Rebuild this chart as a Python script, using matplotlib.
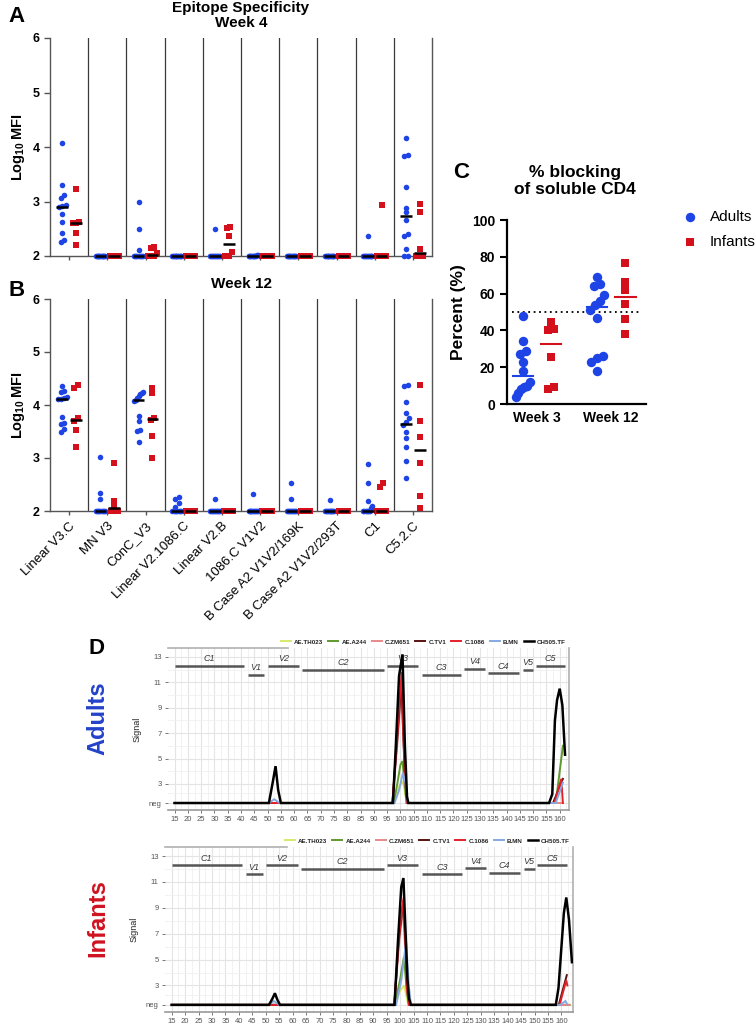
import numpy as np
import matplotlib
matplotlib.use("Agg")
import matplotlib.pyplot as plt
from matplotlib.lines import Line2D

plt.rcParams['font.family'] = ['Liberation Sans', 'DejaVu Sans']
plt.rcParams['mathtext.fontset'] = 'custom'
plt.rcParams['mathtext.bf'] = 'Liberation Sans:bold'
plt.rcParams['mathtext.rm'] = 'Liberation Sans'

# -----------------------
# DATA
# -----------------------
EPITOPES = ["Linear V3.C", "MN V3", "ConC_V3", "Linear V2.1086.C", "Linear V2.B",
            "1086.C V1V2", "B Case A2 V1V2/169K", "B Case A2 V1V2/293T", "C1", "C5.2.C"]

# log10 MFI, week 4 (panel A)
ADULTS_WK4 = [
    [4.08, 3.30, 3.12, 3.07, 2.93, 2.91, 2.90, 2.77, 2.62, 2.42, 2.29, 2.25],
    [2.0, 2.0, 2.0, 2.0, 2.0, 2.0, 2.0, 2.0, 2.0, 2.0, 2.0, 2.0],
    [3.00, 2.50, 2.11, 2.0, 2.0, 2.0, 2.0, 2.0, 2.0, 2.0, 2.0, 2.0],
    [2.0, 2.0, 2.0, 2.0, 2.0, 2.0, 2.0, 2.0, 2.0, 2.0, 2.0, 2.0],
    [2.50, 2.0, 2.0, 2.0, 2.0, 2.0, 2.0, 2.0, 2.0, 2.0, 2.0, 2.0],
    [2.02, 2.01, 2.0, 2.0, 2.0, 2.0, 2.0, 2.0, 2.0, 2.0, 2.0, 2.0],
    [2.0, 2.0, 2.0, 2.0, 2.0, 2.0, 2.0, 2.0, 2.0, 2.0, 2.0, 2.0],
    [2.0, 2.0, 2.0, 2.0, 2.0, 2.0, 2.0, 2.0, 2.0, 2.0, 2.0, 2.0],
    [2.36, 2.0, 2.0, 2.0, 2.0, 2.0, 2.0, 2.0, 2.0, 2.0, 2.0, 2.0],
    [4.17, 3.86, 3.84, 3.27, 2.88, 2.80, 2.66, 2.40, 2.36, 2.13, 2.0, 2.0],
]
INFANTS_WK4 = [
    [3.23, 2.62, 2.61, 2.60, 2.43, 2.20],
    [2.0, 2.0, 2.0, 2.0, 2.0, 2.0],
    [2.17, 2.15, 2.05, 2.0, 2.0, 2.0],
    [2.0, 2.0, 2.0, 2.0, 2.0, 2.0],
    [2.54, 2.52, 2.37, 2.07, 2.0, 2.0],
    [2.0, 2.0, 2.0, 2.0, 2.0, 2.0],
    [2.0, 2.0, 2.0, 2.0, 2.0, 2.0],
    [2.0, 2.0, 2.0, 2.0, 2.0, 2.0],
    [2.93, 2.0, 2.0, 2.0, 2.0, 2.0],
    [2.95, 2.80, 2.12, 2.0, 2.0, 2.0],
]
# log10 MFI, week 12 (panel B)
ADULTS_WK12 = [
    [4.35, 4.26, 4.25, 4.15, 4.13, 4.12, 4.11, 3.78, 3.66, 3.64, 3.55, 3.49],
    [3.01, 2.34, 2.23, 2.0, 2.0, 2.0, 2.0, 2.0, 2.0, 2.0, 2.0, 2.0],
    [4.25, 4.22, 4.20, 4.17, 4.14, 4.10, 4.07, 3.80, 3.70, 3.52, 3.51, 3.31],
    [2.27, 2.22, 2.15, 2.08, 2.0, 2.0, 2.0, 2.0, 2.0, 2.0, 2.0, 2.0],
    [2.22, 2.0, 2.0, 2.0, 2.0, 2.0, 2.0, 2.0, 2.0, 2.0, 2.0, 2.0],
    [2.33, 2.0, 2.0, 2.0, 2.0, 2.0, 2.0, 2.0, 2.0, 2.0, 2.0, 2.0],
    [2.52, 2.22, 2.0, 2.0, 2.0, 2.0, 2.0, 2.0, 2.0, 2.0, 2.0, 2.0],
    [2.20, 2.0, 2.0, 2.0, 2.0, 2.0, 2.0, 2.0, 2.0, 2.0, 2.0, 2.0],
    [2.89, 2.52, 2.18, 2.10, 2.05, 2.0, 2.0, 2.0, 2.0, 2.0, 2.0, 2.0],
    [4.38, 4.35, 4.05, 3.85, 3.75, 3.68, 3.62, 3.50, 3.38, 3.20, 2.95, 2.62],
]
INFANTS_WK12 = [
    [4.38, 4.33, 3.75, 3.70, 3.53, 3.21],
    [2.91, 2.18, 2.10, 2.0, 2.0, 2.0],
    [4.33, 4.23, 3.76, 3.71, 3.41, 3.00],
    [2.0, 2.0, 2.0, 2.0, 2.0, 2.0],
    [2.0, 2.0, 2.0, 2.0, 2.0, 2.0],
    [2.0, 2.0, 2.0, 2.0, 2.0, 2.0],
    [2.0, 2.0, 2.0, 2.0, 2.0, 2.0],
    [2.0, 2.0, 2.0, 2.0, 2.0, 2.0],
    [2.52, 2.45, 2.0, 2.0, 2.0, 2.0],
    [4.38, 3.70, 3.40, 2.90, 2.28, 2.05],
]

# % blocking of soluble CD4 (panel C)
WEEKS = ["Week 3", "Week 12"]
BLOCK_ADULTS = [
    [48, 34.5, 29, 27, 23, 18, 12, 10, 9, 8, 6, 4],
    [69, 65, 64, 59, 56, 54, 51, 47, 26, 25, 23, 18],
]
BLOCK_INFANTS = [
    [44.5, 41, 40, 25.5, 9, 8],
    [76.5, 66.5, 62, 54.5, 46, 38],
]
BLOCK_THRESHOLD = 50
GROUPS = ["Adults", "Infants"]

# linear epitope mapping (panel D)
STRAINS = ["AE.TH023", "AE.A244", "C.ZM651", "C.TV1", "C.1086", "B.MN", "CH505.TF"]
STRAIN_COLORS = ["#d8e86a", "#5e9a2e", "#e8898b", "#5a1212", "#e3202a", "#86a9df", "#000000"]
NEG = 1.5

ADULT_PROFILES = {
    "AE.TH023": ([15, 97.5, 99.5, 101, 102.5, 161], [NEG, NEG, 2.8, 3.2, NEG, NEG]),
    "AE.A244": ([15, 97.5, 99, 100, 100.8, 101.6, 102.3, 158.5, 161.2],
                [NEG, NEG, 3.2, 4.5, 4.8, 3.0, NEG, NEG, 6.0]),
    "C.ZM651": ([15, 97, 99, 100.3, 101.5, 102.3, 161], [NEG, NEG, 6.5, 10.4, 5.0, NEG, NEG]),
    "C.TV1": ([15, 97, 99, 100.4, 101.6, 102.5, 157.5, 160, 161.2],
              [NEG, NEG, 7.0, 11.0, 4.0, NEG, NEG, 2.8, 3.4]),
    "C.1086": ([15, 97, 99, 100.5, 101.6, 102.6, 158, 160.6, 161.2],
               [NEG, NEG, 7.5, 11.8, 4.0, NEG, NEG, 3.4, NEG]),
    "B.MN": ([15, 50.5, 52.5, 54.5, 97.8, 99.5, 101, 102, 102.8, 158.5, 161.2],
             [NEG, NEG, 1.8, NEG, NEG, 2.5, 3.9, 3.0, NEG, NEG, 3.1]),
    "CH505.TF": ([15, 50.5, 52, 53, 54, 55, 97.2, 98.3, 99.5, 100.8, 101.7, 102.5, 103,
                  156, 157.2, 158.2, 159, 160, 161, 162],
                 [NEG, NEG, 3.2, 4.4, 2.5, NEG, NEG, 6.0, 11.5, 13.2, 6.0, 2.0, NEG,
                  NEG, 2.2, 8.0, 9.6, 10.5, 9.2, 5.3]),
}
INFANT_PROFILES = {
    "AE.TH023": ([15, 98, 100, 101.5, 103, 163], [NEG, NEG, 2.6, 3.0, NEG, NEG]),
    "AE.A244": ([15, 98, 100, 101.4, 102.5, 103.3, 163], [NEG, NEG, 3.5, 5.2, 2.5, NEG, NEG]),
    "C.ZM651": ([15, 97.8, 99.5, 101, 102.5, 103.3, 163], [NEG, NEG, 6.0, 9.0, 3.5, NEG, NEG]),
    "C.TV1": ([15, 97.8, 99.5, 101.2, 102.6, 103.5, 159, 162],
              [NEG, NEG, 6.5, 9.6, 3.6, NEG, NEG, 3.8]),
    "C.1086": ([15, 97.8, 99.5, 101.3, 102.4, 103.2, 159.3, 161.8, 162.2],
               [NEG, NEG, 6.8, 9.8, 3.0, NEG, NEG, 3.4, 3.0]),
    "B.MN": ([15, 51, 53, 55, 98.5, 100.5, 102.2, 103.2, 104, 159.5, 161.5, 162],
             [NEG, NEG, 1.8, NEG, NEG, 3.5, 6.4, 3.0, NEG, NEG, 1.8, 1.6]),
    "CH505.TF": ([15, 51.2, 52.5, 53.4, 54.3, 55.3, 97.9, 99.2, 100.4, 101.2, 102.7, 103.3, 104,
                  157.9, 158.9, 160.9, 161.8, 162.8, 163.9],
                 [NEG, NEG, 2.0, 2.4, 1.9, NEG, NEG, 6.5, 10.6, 11.3, 3.5, 2.0, NEG,
                  NEG, 2.8, 8.6, 9.8, 8.1, 4.8]),
}

REGIONS = ["C1", "V1", "V2", "C2", "V3", "C3", "V4", "C4", "V5", "C5"]
REGION_START = [15, 42.5, 50, 63, 95, 108, 124, 133, 146, 151]
REGION_END = [41, 48.8, 62, 94, 106.5, 123, 132, 144.7, 150, 162]
REGION_LEVEL = [12.3, 11.6, 12.3, 12.0, 12.3, 11.6, 12.05, 11.7, 12.0, 12.3]

BLUE = '#1e44e6'
RED = '#d3101c'

# -----------------------
# HELPERS
# -----------------------
fig = plt.figure(figsize=(7.56, 10.25), dpi=100)
W, H = 756, 1025


def px_axes(left, top, right, bottom):
    return fig.add_axes([left / W, 1 - bottom / H, (right - left) / W, (bottom - top) / H])


def swarm_offsets(vals, thr, max_w, dx):
    vals = np.asarray(vals, dtype=float)
    order = np.argsort(vals)
    offs = np.zeros(len(vals))
    groups, cur = [], [order[0]]
    for a, b in zip(order[:-1], order[1:]):
        if vals[b] - vals[a] < thr:
            cur.append(b)
        else:
            groups.append(cur)
            cur = [b]
    groups.append(cur)
    for g in groups:
        k = len(g)
        if k > 1:
            step = min(dx, max_w / (k - 1))
            for j, idx in enumerate(g):
                offs[idx] = (j - (k - 1) / 2) * step
    return offs


def epitope_panel(ax, adults, infants, title, show_labels):
    n = len(EPITOPES)
    for i in range(n):
        for vals, shift, color, marker, ms in ((adults[i], -0.18, BLUE, 'o', 4.0),
                                               (infants[i], 0.18, RED, 's', 3.8)):
            v = np.asarray(vals)
            x = i + shift + swarm_offsets(v, 0.07, 0.24, 0.09)
            ax.plot(x, v, marker, color=color, ms=ms, mew=0, ls='none', clip_on=False, zorder=3)
            med = np.median(v)
            ax.plot([i + shift - 0.15, i + shift + 0.15], [med, med], color='black',
                    lw=1.8, solid_capstyle='butt', clip_on=False, zorder=4)
    for i in range(1, n):
        ax.axvline(i - 0.5, color='#3a3a3a', lw=0.9, zorder=1)
    ax.set_xlim(-0.5, n - 0.5)
    ax.set_ylim(2, 6)
    ax.set_yticks([2, 3, 4, 5, 6])
    ax.set_xticks(range(n))
    ax.spines['top'].set_visible(False)
    for s in ['left', 'right', 'bottom']:
        ax.spines[s].set_color('#555555')
        ax.spines[s].set_linewidth(1.0)
    ax.tick_params(axis='y', length=4, width=1, labelsize=9, color='#555555')
    ax.tick_params(axis='x', length=3, width=1, color='#555555')
    for t in ax.get_yticklabels():
        t.set_fontweight('bold')
    ax.set_ylabel(r'$\mathbf{Log_{10}\,MFI}$', fontsize=10.5, labelpad=4)
    ax.set_title(title, fontsize=11, fontweight='bold', pad=8, linespacing=1.1)
    if show_labels:
        ax.set_xticklabels(EPITOPES, rotation=45, ha='right', rotation_mode='anchor', fontsize=9.5)
    else:
        ax.set_xticklabels([])


def profile_panel(ax, profiles, xmax):
    for name, color in zip(STRAINS, STRAIN_COLORS):
        xs, ys = profiles[name]
        ax.plot(xs, ys, color=color, lw=1.8 if name == 'CH505.TF' else 1.4, zorder=3,
                label=name, solid_joinstyle='miter')
    for name, s, e, lev in zip(REGIONS, REGION_START, REGION_END, REGION_LEVEL):
        ax.plot([s, e], [lev, lev], color='#555555', lw=1.8, zorder=2, solid_capstyle='butt')
        ax.text((s + e) / 2, lev + 0.2, name, ha='center', va='bottom', fontsize=6.5,
                style='italic', color='#3a3a3a', zorder=2)
    ax.set_xlim(12.5, xmax)
    ax.set_ylim(0.95, 13.7)
    ax.set_xticks(range(15, 161, 5))
    ax.set_xticks(np.arange(17.5, 163, 5), minor=True)
    ax.set_yticks([NEG, 3, 5, 7, 9, 11, 13])
    ax.set_yticklabels(['neg', '3', '5', '7', '9', '11', '13'])
    ax.set_yticks([2.25, 4, 6, 8, 10, 12], minor=True)
    ax.grid(which='major', color='#e4e4e4', lw=0.8, zorder=0)
    ax.grid(which='minor', color='#f0f0f0', lw=0.6, zorder=0)
    ax.set_axisbelow(True)
    ax.tick_params(which='major', labelsize=5.5, labelcolor='#555555', color='#777777',
                   length=2.5, width=0.7, pad=2)
    ax.tick_params(which='minor', length=0)
    ax.spines['left'].set_visible(False)
    ax.spines['top'].set_visible(False)
    ax.spines['bottom'].set_color('#9a9a9a')
    ax.spines['right'].set_color('#b0b0b0')
    ax.spines['bottom'].set_linewidth(1.2)
    ax.spines['right'].set_linewidth(1.2)
    ax.plot([0, 0.30], [1, 1], transform=ax.transAxes, color='#b0b0b0', lw=1.2,
            clip_on=False)
    ax.set_ylabel('Signal', fontsize=6.5, color='#222222', labelpad=5)
    leg = ax.legend(loc='lower right', bbox_to_anchor=(1.0, 1.0), ncol=7, frameon=False,
                    prop={'size': 4.5, 'weight': 'bold'}, handlelength=1.6,
                    columnspacing=0.8, handletextpad=0.5, borderaxespad=0.15)
    for t in leg.get_texts():
        t.set_color('#222222')


# -----------------------
# PANEL A / B
# -----------------------
ax_a = px_axes(50, 38, 432, 256)
epitope_panel(ax_a, ADULTS_WK4, INFANTS_WK4, "Epitope Specificity\nWeek 4", False)
ax_b = px_axes(50, 299, 432, 511)
epitope_panel(ax_b, ADULTS_WK12, INFANTS_WK12, "Week 12", True)

# -----------------------
# PANEL C
# -----------------------
ax_c = px_axes(507, 220, 646, 404)
for k in range(len(WEEKS)):
    for vals, shift, color, marker, ms in ((BLOCK_ADULTS[k], -0.19, BLUE, 'o', 6.8),
                                           (BLOCK_INFANTS[k], 0.19, RED, 's', 6.0)):
        v = np.asarray(vals, dtype=float)
        x = k + shift + swarm_offsets(v, 3.5, 0.2, 0.085)
        ax_c.plot(x, v, marker, color=color, ms=ms, mew=0, ls='none', clip_on=False, zorder=3)
        med = np.median(v)
        ax_c.plot([k + shift - 0.14, k + shift + 0.14], [med, med], color=color, lw=1.5,
                  zorder=4)
ax_c.plot([-0.34, 1.38], [BLOCK_THRESHOLD, BLOCK_THRESHOLD], color='black', lw=1.3,
          ls=(0, (1, 2)), zorder=2)
ax_c.set_xlim(-0.405, 1.47)
ax_c.set_ylim(0, 100)
ax_c.set_yticks(range(0, 101, 20))
ax_c.set_xticks(range(len(WEEKS)))
ax_c.set_xticklabels(WEEKS, fontsize=10, fontweight='bold')
for t in ax_c.get_yticklabels():
    t.set_fontweight('bold')
ax_c.tick_params(axis='y', labelsize=10, width=1.5, length=5)
ax_c.tick_params(axis='x', width=1.5, length=0, pad=5)
ax_c.spines['top'].set_visible(False)
ax_c.spines['right'].set_visible(False)
ax_c.spines['left'].set_linewidth(1.6)
ax_c.spines['bottom'].set_linewidth(1.6)
ax_c.set_ylabel('Percent (%)', fontsize=12.5, fontweight='bold', labelpad=4)
fig.text(575 / W, 1 - 181 / H, "% blocking\nof soluble CD4", ha='center', va='center',
         fontsize=12.5, fontweight='bold', linespacing=1.1)

# legend for panel C, drawn as marker + text
for label, color, marker, ms, y in ((GROUPS[0], BLUE, 'o', 6.8, 217), (GROUPS[1], RED, 's', 6.0, 242)):
    fig.add_artist(Line2D([690 / W], [1 - y / H], marker=marker, color=color, ms=ms, mew=0,
                          ls='none', transform=fig.transFigure))
    fig.text(710 / W, 1 - y / H, label, fontsize=11, va='center', ha='left')

# -----------------------
# PANEL D
# -----------------------
ax_d1 = px_axes(168, 648, 569, 810)
profile_panel(ax_d1, ADULT_PROFILES, 163.5)
ax_d2 = px_axes(165, 847, 573, 1012)
profile_panel(ax_d2, INFANT_PROFILES, 164.3)
fig.text(98 / W, 1 - 718 / H, "Adults", rotation=90, ha='center', va='center',
         fontsize=17, fontweight='bold', color='#2342c9')
fig.text(98 / W, 1 - 918 / H, "Infants", rotation=90, ha='center', va='center',
         fontsize=17, fontweight='bold', color='#cf1220')

# panel letters
for letter, x, y in (("A", 8, 17), ("B", 8, 290), ("C", 453, 172), ("D", 88, 648)):
    fig.text(x / W, 1 - y / H, letter, fontsize=16, fontweight='bold', va='center', ha='left')

fig.savefig("out.png", dpi=100)
